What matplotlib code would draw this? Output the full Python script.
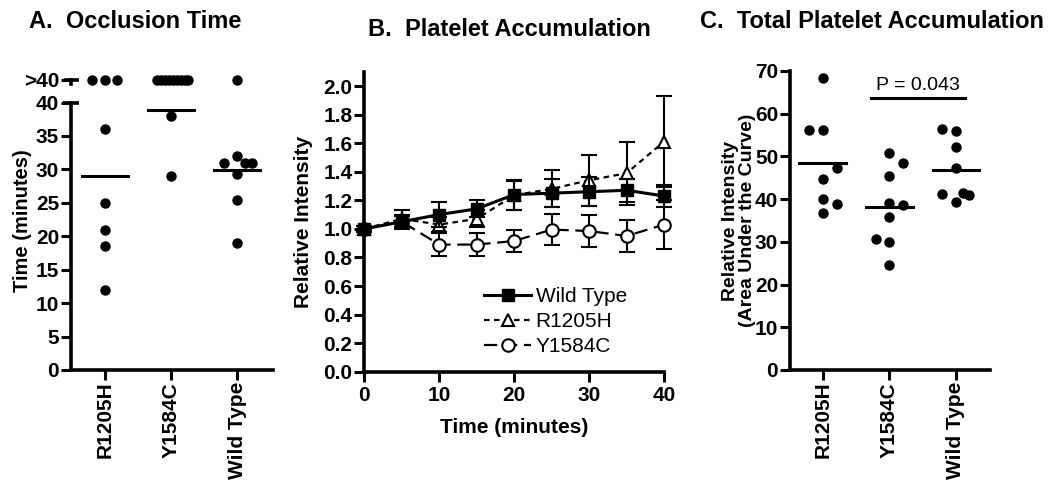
import numpy as np
import matplotlib
matplotlib.use("Agg")
import matplotlib.pyplot as plt
import matplotlib.transforms as mtransforms

plt.rcParams['font.family'] = ['Liberation Sans', 'DejaVu Sans']
plt.rcParams['font.weight'] = 'bold'
plt.rcParams['axes.labelweight'] = 'bold'
plt.rcParams['font.size'] = 14

groups = ['R1205H', 'Y1584C', 'Wild Type']

# A. occlusion time (minutes), ">40" = did not occlude
occl_r1205h = ['>40', '>40', '>40', 36, 25, 21, 18.5, 12]
occl_y1584c = ['>40'] * 9 + [38, 29]
occl_wt = ['>40', 32, 31, 31, 31, 29.3, 25.4, 19]
# horizontal scatter offsets (as drawn in the original)
jit_a = [[-0.2, 0, 0.18, 0, 0, 0, 0, 0],
         [-0.21, -0.15, -0.09, -0.03, 0.03, 0.09, 0.15, 0.21, 0.26, 0, 0],
         [0, 0, -0.2, 0.12, 0.22, 0, 0, 0]]

# B. platelet accumulation over time
t_min = [0, 5, 10, 15, 20, 25, 30, 35, 40]
wt_mean = [1.00, 1.05, 1.10, 1.14, 1.24, 1.25, 1.26, 1.27, 1.23]
wt_err = [0.02, 0.05, 0.09, 0.06, 0.105, 0.10, 0.10, 0.08, 0.08]
r_mean = [1.00, 1.07, 1.03, 1.07, 1.235, 1.28, 1.34, 1.39, 1.61]
r_err = [0.02, 0.06, 0.05, 0.06, 0.10, 0.13, 0.18, 0.22, 0.32]
y_mean = [1.00, 1.05, 0.89, 0.89, 0.915, 0.995, 0.985, 0.95, 1.03]
y_err = [0.02, 0.04, 0.08, 0.08, 0.075, 0.11, 0.11, 0.115, 0.17]

# C. total platelet accumulation (area under the curve)
auc_r1205h = [68.3, 56.2, 56.2, 47.4, 44.7, 40.0, 38.9, 36.7]
auc_y1584c = [50.7, 48.4, 45.4, 39.2, 38.6, 35.8, 30.7, 30.0, 24.6]
auc_wt = [56.4, 56.0, 52.1, 47.4, 41.2, 41.4, 41.0, 39.4]
jit_c = [[0, -0.2, 0, 0.21, 0, 0, 0.21, 0],
         [0, 0.21, 0, 0, 0.21, 0, -0.2, 0, 0],
         [-0.21, 0, 0, 0, -0.21, 0.1, 0.2, 0]]
p_text = 'P = 0.043'

OVER_Y = 43.4
SPW = 2.6


def style_axes(ax):
    for s in ['top', 'right']:
        ax.spines[s].set_visible(False)
    for s in ['left', 'bottom']:
        ax.spines[s].set_linewidth(SPW)
    ax.tick_params(width=2.2, length=7, direction='out', labelsize=15, pad=1.5)


fig = plt.figure(figsize=(10.57, 4.82), dpi=100)

# ---- Panel A ----
axA = fig.add_axes([0.0672, 0.2324, 0.1915, 0.6187])
style_axes(axA)
for i, (vals, jit) in enumerate(zip([occl_r1205h, occl_y1584c, occl_wt], jit_a)):
    num = [40 if v == '>40' else v for v in vals]
    ys = [OVER_Y if v == '>40' else v for v in vals]
    axA.scatter(np.array(jit) + i, ys, s=6.5 ** 2, color='black', zorder=3, clip_on=False)
    m = np.mean(num)
    axA.plot([i - 0.35, i + 0.35], [m, m], color='black', lw=2.2, zorder=2)
axA.set_xlim(-0.52, 2.55)
axA.set_ylim(0, 44.6)
axA.spines['left'].set_bounds(0, 40)
axA.set_yticks(list(range(0, 45, 5)) + [OVER_Y])
axA.set_yticklabels([str(v) for v in range(0, 45, 5)] + ['>40'])
axA.set_xticks(range(3))
axA.set_xticklabels(groups, rotation=90)
bl = mtransforms.blended_transform_factory(axA.transAxes, axA.transData)
axA.plot([-0.04, 0.04], [40, 40], color='black', lw=SPW, transform=bl, clip_on=False,
         solid_capstyle='butt')
axA.plot([-0.035, 0.04], [OVER_Y, OVER_Y], color='black', lw=SPW, transform=bl, clip_on=False,
         solid_capstyle='butt')
axA.plot([0, 0], [42.7, OVER_Y], color='black', lw=SPW, transform=bl, clip_on=False)
axA.set_ylabel('Time (minutes)', fontsize=14.5)
axA.yaxis.set_label_coords(-0.195, 0.5)
fig.text(0.027, 0.955, 'A.  Occlusion Time', fontsize=17, va='center', ha='left')

# ---- Panel B ----
axB = fig.add_axes([0.3447, 0.2288, 0.2835, 0.6224])
style_axes(axB)
axB.tick_params(axis='x', pad=3.5)
axB.errorbar(t_min, wt_mean, yerr=wt_err, color='black', lw=2.2, marker='s', ms=8.5,
             capsize=6, elinewidth=1.5, capthick=1.5, label='Wild Type', zorder=4, clip_on=False)
axB.errorbar(t_min, r_mean, yerr=r_err, color='black', lw=1.6, ls=(0, (2.5, 2)), marker='^',
             ms=9, mfc='white', mew=1.5, capsize=6, elinewidth=1.5, capthick=1.5,
             label='R1205H', zorder=3, clip_on=False)
axB.errorbar(t_min, y_mean, yerr=y_err, color='black', lw=1.6, ls=(0, (6, 3)), marker='o',
             ms=9, mfc='white', mew=1.5, capsize=6, elinewidth=1.5, capthick=1.5,
             label='Y1584C', zorder=3, clip_on=False)
axB.set_xlim(0, 40)
axB.set_ylim(0, 2.1)
axB.set_xticks(range(0, 41, 10))
axB.set_yticks(np.arange(0, 2.01, 0.2))
axB.set_yticklabels(['%.1f' % v for v in np.arange(0, 2.01, 0.2)])
axB.set_xlabel('Time (minutes)', fontsize=15, labelpad=9)
axB.set_ylabel('Relative Intensity', fontsize=15)
axB.yaxis.set_label_coords(-0.172, 0.5)
handles, labels = axB.get_legend_handles_labels()
handles = [h[0] for h in handles]
axB.legend(handles, labels, loc='lower left', bbox_to_anchor=(0.37, 0.025), frameon=False,
           prop={'weight': 'normal', 'size': 15}, handlelength=2.3, handletextpad=0.2,
           labelspacing=0.28, borderaxespad=0)
fig.text(0.348, 0.938, 'B.  Platelet Accumulation', fontsize=17, va='center', ha='left')

# ---- Panel C ----
axC = fig.add_axes([0.7474, 0.2324, 0.1892, 0.6203])
style_axes(axC)
for i, (vals, jit) in enumerate(zip([auc_r1205h, auc_y1584c, auc_wt], jit_c)):
    axC.scatter(np.array(jit) + i, vals, s=6.5 ** 2, color='black', zorder=3)
    m = np.mean(vals)
    axC.plot([i - 0.35, i + 0.35], [m, m], color='black', lw=2.2, zorder=2)
axC.set_xlim(-0.49, 2.51)
axC.set_ylim(0, 70)
axC.set_yticks(range(0, 71, 10))
axC.set_xticks(range(3))
axC.set_xticklabels(groups, rotation=90)
axC.plot([0.72, 2.14], [63.6, 63.6], color='black', lw=2.2)
axC.text(1.43, 66.6, p_text, ha='center', va='center', fontsize=14, fontweight='normal')
axC.set_ylabel('Relative Intensity\n(Area Under the Curve)', fontsize=14, linespacing=1.0)
axC.yaxis.set_label_coords(-0.17, 0.5)
fig.text(0.662, 0.955, 'C.  Total Platelet Accumulation', fontsize=17, va='center', ha='left')

fig.savefig('out.png', dpi=100)
